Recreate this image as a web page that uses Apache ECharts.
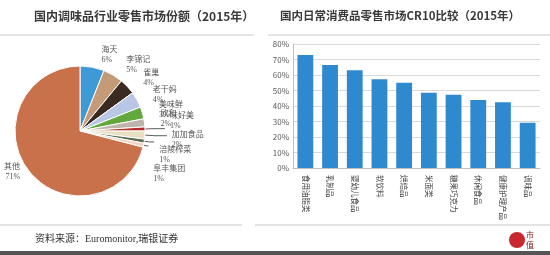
<!DOCTYPE html>
<html><head><meta charset="utf-8">
<script src="https://cdn.jsdelivr.net/npm/echarts@6/dist/echarts.min.js"></script>
<style>html,body{margin:0;padding:0;background:#fff}#c{width:550px;height:255px}</style>
</head><body><div id="c"></div>
<script>
const pieNames = ['海天','李锦记','雀巢','老干妈','美味鲜','欣和','味好美','加加食品','涪陵榨菜','阜丰集团','其他'];
const pieValues = [6,5,4,4,3,2,1,2,1,1,71];
const pieColors = ['#3d9ad6','#c49a78','#3a2b22','#b9c6e6','#62a83c','#bdb5ab','#b52b27','#e8e0c0','#5d6b50','#f3d4be','#c9714a'];
const barCategories = ['食用油脂类','乳制品','婴幼儿食品','软饮料','烘焙品','米面类','糖果巧克力','休闲食品','健康护理产品','调味品'];
const barValues = [72.9,66.5,63,57.2,55,48.6,47.3,43.9,42.4,29.2];

// label leader-line styling per slice (styles only)
const lineStyles = [
  {length: 12, length2: 2, show: false},
  {length: 12, length2: 2, show: false},
  {length: 12, length2: 2, show: false},
  {length: 10, length2: 2, show: false},
  {length: 10, length2: 2, show: false},
  {length: 9, length2: 2, show: false},
  {length: 10, length2: 10, show: true},
  {length: 10, length2: 12, show: true},
  {length: 5, length2: 5, show: true},
  {length: 3, length2: 2, show: true},
  {length: 2, length2: 2, show: false}
];
const labelDy = [0,0,0,0,0,-3,-8,4,13,28,0];

const FONT = '"Noto Sans CJK SC", "Noto Sans", sans-serif';
const SERIF = '"Liberation Serif", "Noto Sans CJK SC", serif';
const chart = echarts.init(document.getElementById('c'));
chart.setOption({
  animation: false,
  textStyle: {fontFamily: FONT},
  title: [
    {text: '国内调味品行业零售市场份额（2015年）', left: 29, top: 5, textStyle: {fontSize: 12, fontWeight: 'bold', color: '#3a3a3a', fontFamily: FONT}},
    {text: '国内日常消费品零售市场CR10比较（2015年）', left: 275, top: 5, textStyle: {fontSize: 11.5, fontWeight: 'bold', color: '#3a3a3a', fontFamily: FONT}}
  ],
  color: pieColors,
  grid: {left: 293, right: 10, top: 44, bottom: 87},
  xAxis: {
    type: 'category', data: barCategories,
    axisLine: {lineStyle: {color: '#bfbfbf'}},
    axisTick: {show: false},
    axisLabel: {rotate: -90, fontSize: 7.5, color: '#444', margin: 7, interval: 0}
  },
  yAxis: {
    type: 'value', min: 0, max: 80, interval: 10,
    axisLine: {show: true, lineStyle: {color: '#bfbfbf'}},
    axisTick: {show: false},
    splitLine: {lineStyle: {color: '#d9d9d9'}},
    axisLabel: {fontSize: 8, color: '#595959', margin: 4, formatter: v => v + '%'}
  },
  series: [
    {
      type: 'bar', data: barValues, barWidth: '64%',
      itemStyle: {color: '#2f89cf'}
    },
    {
      type: 'pie', center: [80, 131], radius: 65, startAngle: 90, clockwise: true,
      avoidLabelOverlap: false,
      data: pieNames.map((n, i) => ({name: n, value: pieValues[i], labelLine: lineStyles[i]})),
      itemStyle: {borderColor: '#fff', borderWidth: 1},
      label: {formatter: '{b}\n{d}%', fontSize: 8, color: '#555', lineHeight: 10, fontFamily: SERIF},
      labelLine: {lineStyle: {color: '#333', width: 0.8}},
      labelLayout: p => ({dy: labelDy[p.dataIndex]})
    }
  ],
  graphic: [
    {type: 'line', shape: {x1: 0, y1: 35, x2: 254, y2: 35}, style: {stroke: '#c8c8c8', lineWidth: 1}},
    {type: 'line', shape: {x1: 268, y1: 35, x2: 550, y2: 35}, style: {stroke: '#c8c8c8', lineWidth: 1}},
    {type: 'line', shape: {x1: 0, y1: 225, x2: 242, y2: 225}, style: {stroke: '#c8c8c8', lineWidth: 1}},
    {type: 'line', shape: {x1: 255, y1: 225, x2: 550, y2: 225}, style: {stroke: '#c8c8c8', lineWidth: 1}},
    {type: 'rect', shape: {x: 0, y: 251, width: 550, height: 4}, style: {fill: '#555'}},
    {type: 'text', left: 35, top: 234, style: {text: '资料来源：Euromonitor,瑞银证券', fontSize: 10, fill: '#333', fontFamily: SERIF}},
    {type: 'circle', shape: {cx: 517, cy: 240, r: 8}, style: {fill: '#c8282d'}},
    {type: 'text', left: 526, top: 230, style: {text: '市\n值', fontSize: 8, lineHeight: 10, fill: '#8a1c1c', fontFamily: FONT}}
  ]
});
</script></body></html>
